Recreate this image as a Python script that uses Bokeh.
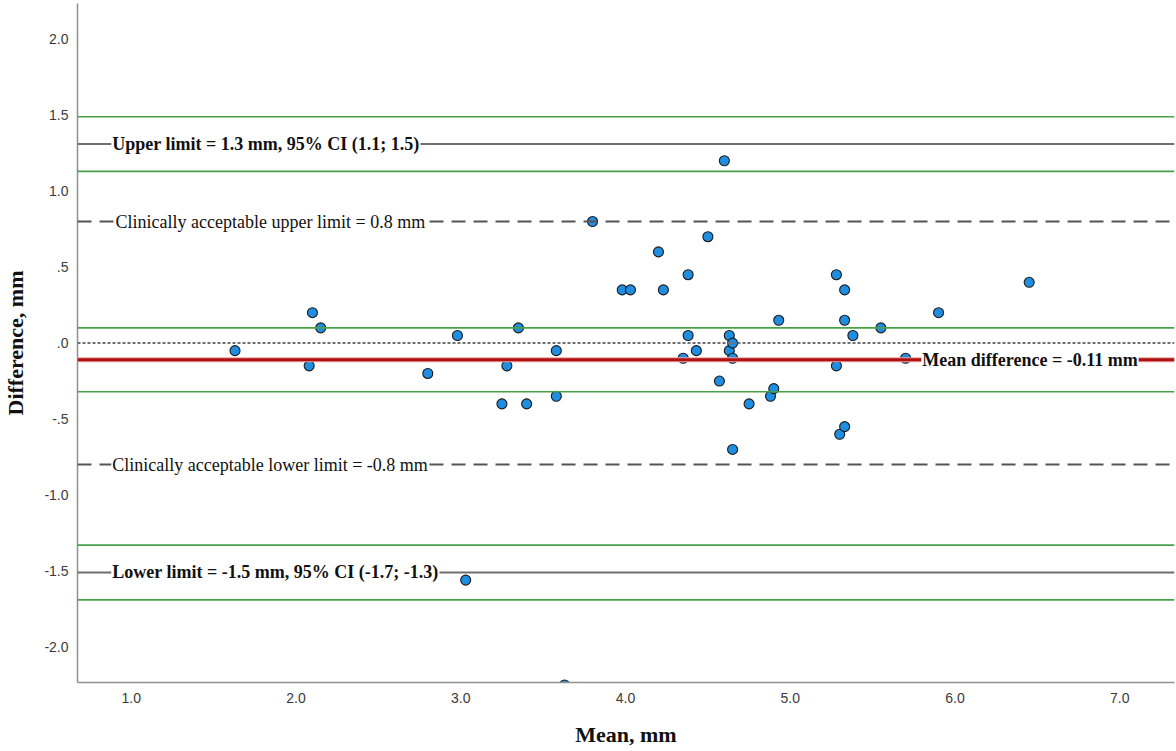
from bokeh.plotting import figure
from bokeh.models import Span, Label, FixedTicker, PrintfTickFormatter, Range1d
from bokeh.embed import file_html
from bokeh.resources import INLINE

# ---- data ----
mean_mm = [1.63, 2.10, 2.15, 2.08, 2.80, 2.98, 3.03, 3.25, 3.28, 3.35,
           3.40, 3.58, 3.58, 3.63, 3.80, 3.98, 4.03, 4.20, 4.23, 4.35,
           4.38, 4.38, 4.43, 4.50, 4.57, 4.60, 4.63, 4.63, 4.65, 4.65,
           4.65, 4.75, 4.88, 4.90, 4.93, 5.28, 5.28, 5.30, 5.33, 5.33,
           5.33, 5.38, 5.55, 5.70, 5.90, 6.45]
diff_mm = [-0.05, 0.20, 0.10, -0.15, -0.20, 0.05, -1.56, -0.40, -0.15, 0.10,
           -0.40, -0.05, -0.35, -2.25, 0.80, 0.35, 0.35, 0.60, 0.35, -0.10,
           0.45, 0.05, -0.05, 0.70, -0.25, 1.20, 0.05, -0.05, 0.00, -0.10,
           -0.70, -0.40, -0.35, -0.30, 0.15, 0.45, -0.15, -0.60, 0.35, 0.15,
           -0.55, 0.05, 0.10, -0.10, 0.20, 0.40]

mean_difference = -0.11
loa_levels = [1.31, -1.51]                  # upper / lower limits of agreement
ci_levels = [1.49, 1.13, 0.10, -0.32, -1.33, -1.69]  # 95% CI bounds
clinical_levels = [0.8, -0.8]
zero_level = [0.0]

x_ticks = [1.0, 2.0, 3.0, 4.0, 5.0, 6.0, 7.0]
y_ticks = [-2.0, -1.5, -1.0, -0.5, 0.0, 0.5, 1.0, 1.5, 2.0]
y_tick_overrides = {0.5: ".5", 0.0: ".0", -0.5: "-.5"}

label_texts = ["Upper limit = 1.3 mm, 95% CI (1.1; 1.5)",
               "Clinically acceptable upper limit = 0.8 mm",
               "Mean difference = -0.11 mm",
               "Clinically acceptable lower limit = -0.8 mm",
               "Lower limit = -1.5 mm, 95% CI (-1.7; -1.3)"]
label_levels = [loa_levels[0], clinical_levels[0], mean_difference,
                clinical_levels[1], loa_levels[1]]
label_x = [0.879, 0.899, 5.795, 0.879, 0.879]
label_bold = [True, False, True, False, True]

# ---- figure ----
p = figure(width=1176, height=751, output_backend="svg", toolbar_location=None,
           x_range=Range1d(0.674, 7.332), y_range=Range1d(-2.234, 2.235),
           min_border_left=76, min_border_right=2, min_border_top=3,
           min_border_bottom=69)
p.outline_line_color = None
p.xgrid.visible = False
p.ygrid.visible = False
p.background_fill_color = "white"
p.border_fill_color = "white"

# points
p.scatter(mean_mm, diff_mm, marker="circle", size=10, fill_color="#1f8de0",
          line_color="#1a1a1a", line_width=1.1)

# reference lines (drawn above points, as in the original)
for lv in ci_levels:
    p.add_layout(Span(location=lv, dimension="width", line_color="#48a048",
                      line_width=1.6))
for lv in loa_levels:
    p.add_layout(Span(location=lv, dimension="width", line_color="#6e6e6e",
                      line_width=2))
for lv in clinical_levels:
    p.add_layout(Span(location=lv, dimension="width", line_color="#555555",
                      line_width=2, line_dash="14 8"))
for lv in zero_level:
    p.add_layout(Span(location=lv, dimension="width", line_color="#707070",
                      line_width=2, line_dash="3 2"))
p.add_layout(Span(location=mean_difference, dimension="width",
                  line_color="#e9a3a3", line_width=5))
p.add_layout(Span(location=mean_difference, dimension="width",
                  line_color="#b01010", line_width=3))

# labels
for txt, lv, lx, bold in zip(label_texts, label_levels, label_x, label_bold):
    p.add_layout(Label(x=lx, y=lv, text=txt, text_font="Liberation Serif",
                       text_font_size="18px",
                       text_font_style="bold" if bold else "normal",
                       text_color="#111111", text_align="left",
                       text_baseline="middle", background_fill_color="white",
                       padding=1))

# axes
for ax in (p.xaxis[0], p.yaxis[0]):
    ax.axis_line_color = "#909090"
    ax.axis_line_width = 1.5
    ax.major_tick_in = 0
    ax.major_tick_out = 0
    ax.minor_tick_in = 0
    ax.minor_tick_out = 0
    ax.major_label_text_font = "Liberation Sans"
    ax.major_label_text_font_size = "14px"
    ax.major_label_text_color = "#3a3a3a"
    ax.axis_label_text_font = "Liberation Serif"
    ax.axis_label_text_font_style = "bold"
    ax.axis_label_text_font_size = "22px"
    ax.axis_label_text_color = "#111111"

p.xaxis[0].ticker = FixedTicker(ticks=x_ticks)
p.xaxis[0].formatter = PrintfTickFormatter(format="%.1f")
p.xaxis[0].major_label_standoff = 10
p.xaxis[0].axis_label = "Mean, mm"
p.xaxis[0].axis_label_standoff = 16

p.yaxis[0].ticker = FixedTicker(ticks=y_ticks)
p.yaxis[0].formatter = PrintfTickFormatter(format="%.1f")
p.yaxis[0].major_label_overrides = y_tick_overrides
p.yaxis[0].major_label_standoff = 9
p.yaxis[0].axis_label = "Difference, mm"
p.yaxis[0].axis_label_standoff = 13

open("out.html", "w").write(file_html(p, INLINE))
